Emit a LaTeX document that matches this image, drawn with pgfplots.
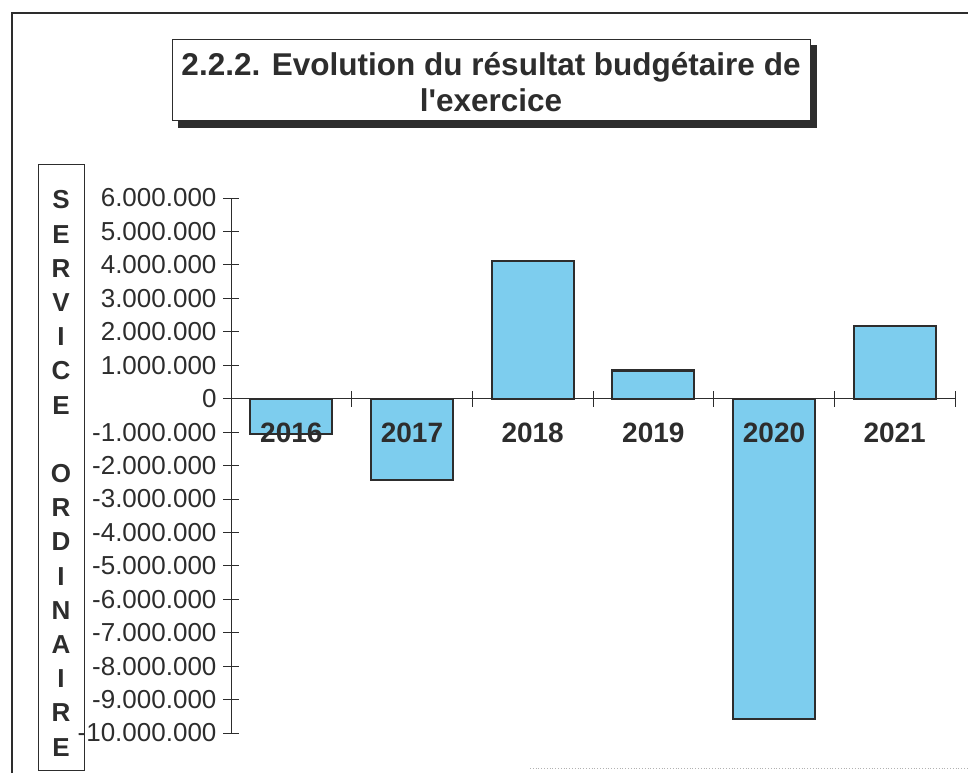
\documentclass[border=0pt]{standalone}
\usepackage{fontspec}
\setmainfont{Liberation Sans}
\usepackage{pgfplots}
\pgfplotsset{compat=1.18}
\definecolor{barblue}{RGB}{125,205,238}
\definecolor{ink}{RGB}{45,45,45}
\begin{document}
\begin{tikzpicture}[x=1pt,y=1pt]
\path[use as bounding box] (0,0) rectangle (968,773);
% outer frame
\draw[ink, line width=1.2pt] (12,0) -- (12,760) -- (968,760);
\draw[black!30, line width=0.8pt, dotted] (530,5) -- (968,5);
% title box with shadow
\fill[ink] (178,645) rectangle (817,728);
\draw[ink, fill=white, line width=1pt] (172,652) rectangle (810,733);
\node[align=center, font=\fontsize{31.5}{36}\selectfont\bfseries, text=ink] at (491,691) {2.2.2. Evolution du résultat budgétaire de\\l\textquotesingle exercice};
% y label box
\draw[ink, line width=1pt] (38,3) rectangle (84,608);
\node[align=center, font=\fontsize{26}{34.2}\selectfont\bfseries, text=ink, inner sep=0pt] at (61,299.5) {S\\E\\R\\V\\I\\C\\E\\ \\O\\R\\D\\I\\N\\A\\I\\R\\E};
\begin{axis}[
  at={(231pt,40pt)}, anchor=south west,
  scale only axis, width=724pt, height=535pt,
  xmin=0, xmax=6, ymin=-10000000, ymax=6000000,
  axis x line=middle, axis y line=left,
  axis line style={-, ink, line width=0.8pt},
  axis on top,
  hide obscured x ticks=false, hide obscured y ticks=false,
  tick align=center, major tick length=16pt,
  tick style={ink, line width=0.8pt},
  ytick={-10000000,-9000000,-8000000,-7000000,-6000000,-5000000,-4000000,-3000000,-2000000,-1000000,0,1000000,2000000,3000000,4000000,5000000,6000000},
  scaled y ticks=false,
  /pgf/number format/fixed, /pgf/number format/precision=0,
  /pgf/number format/1000 sep={.}, /pgf/number format/assume math mode=true,
  yticklabel style={font=\fontsize{26}{26}\selectfont, text=ink, xshift=-3pt},
  xtick={0,1,2,3,4,5,6},
  xticklabels={2016,2017,2018,2019,2020,2021,},
  x tick label as interval,
  xticklabel style={font=\fontsize{28}{28}\selectfont\bfseries, text=ink, yshift=-13pt},
  clip=false,
]
\addplot[ybar, bar width=82pt, fill=barblue, draw=ink, line width=2.2pt] coordinates {
  (0.5,-1070000) (1.5,-2440000) (2.5,4110000) (3.5,840000) (4.5,-9570000) (5.5,2180000)
};
\end{axis}
\end{tikzpicture}
\end{document}
